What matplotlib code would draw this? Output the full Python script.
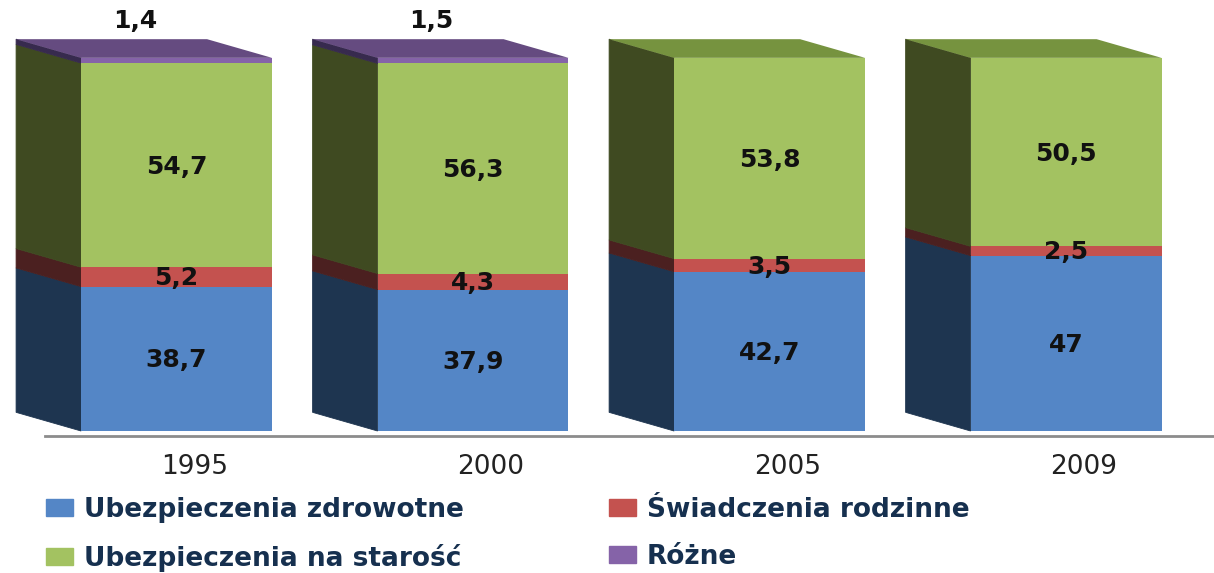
import matplotlib
matplotlib.use("Agg")
import matplotlib.pyplot as plt
from matplotlib.patches import Polygon, Patch

YEARS = ["1995", "2000", "2005", "2009"]
HEALTH = [38.7, 37.9, 42.7, 47.0]
FAMILY = [5.2, 4.3, 3.5, 2.5]
OLD_AGE = [54.7, 56.3, 53.8, 50.5]
OTHER = [1.4, 1.5, 0.0, 0.0]

HEALTH_LABELS = ["38,7", "37,9", "42,7", "47"]
FAMILY_LABELS = ["5,2", "4,3", "3,5", "2,5"]
OLD_AGE_LABELS = ["54,7", "56,3", "53,8", "50,5"]
OTHER_LABELS = ["1,4", "1,5", "", ""]

SERIES_NAMES = ["Ubezpieczenia zdrowotne", "Świadczenia rodzinne", "Ubezpieczenia na starość", "Różne"]
FRONT_COLORS = ["#5486C6", "#C4524F", "#A3C261", "#8563A8"]
SIDE_COLORS = ["#1E3550", "#4B2020", "#3F4A21", "#372A4E"]
TOP_COLORS = ["#3F6CA0", "#9A3C3A", "#76933F", "#654B80"]

BAR_WIDTH = 0.644
DEPTH_X = 0.219
DEPTH_Y = 5.0
TEXT_COLOR = "#111111"

fig = plt.figure(figsize=(12.14, 5.73), dpi=100)
ax = fig.add_axes([45 / 1214, (573 - 436) / 573, (1214 - 45) / 1214, 436 / 573])
ax.set_xlim(-0.4435, 3.499)
ax.set_ylim(-1.34, 115.5)

series = [HEALTH, FAMILY, OLD_AGE, OTHER]
labels = [HEALTH_LABELS, FAMILY_LABELS, OLD_AGE_LABELS, OTHER_LABELS]

for i in range(len(YEARS)):
    bottom = 0
    top_idx = max(s for s in range(4) if series[s][i] > 0)
    for s in range(4):
        value = series[s][i]
        if value == 0:
            continue
        left = i - BAR_WIDTH / 2
        ax.bar(i, value, BAR_WIDTH, bottom=bottom, color=FRONT_COLORS[s], linewidth=0, clip_on=False, zorder=3)
        # side face of the fake 3d bar
        side = [(left, bottom), (left - DEPTH_X, bottom + DEPTH_Y),
                (left - DEPTH_X, bottom + value + DEPTH_Y), (left, bottom + value)]
        ax.add_patch(Polygon(side, facecolor=SIDE_COLORS[s], edgecolor=SIDE_COLORS[s], linewidth=0.6,
                             clip_on=False, zorder=2))
        if s == top_idx:
            roof = [(left, bottom + value), (left - DEPTH_X, bottom + value + DEPTH_Y),
                    (left - DEPTH_X + BAR_WIDTH, bottom + value + DEPTH_Y), (left + BAR_WIDTH, bottom + value)]
            ax.add_patch(Polygon(roof, facecolor=TOP_COLORS[s], linewidth=0, clip_on=False, zorder=2))
        if s == 3:
            ax.text(i - 0.14, bottom + value + 10, labels[s][i], ha="center", va="center",
                    fontsize=18, fontweight="bold", color=TEXT_COLOR, zorder=4)
        else:
            ax.text(i, bottom + value / 2 - 0.4, labels[s][i], ha="center", va="center",
                    fontsize=18, fontweight="bold", color=TEXT_COLOR, zorder=4)
        bottom += value

for name in ["top", "left", "right"]:
    ax.spines[name].set_visible(False)
ax.spines["bottom"].set_color("#8C8C8C")
ax.spines["bottom"].set_linewidth(2)
ax.set_yticks([])
ax.set_xticks([i + 0.06 for i in range(len(YEARS))], YEARS)
ax.tick_params(axis="x", length=0, pad=13, labelsize=19, labelcolor="#222222")
ax.patch.set_alpha(0)

handles = [Patch(color=FRONT_COLORS[s], label=SERIES_NAMES[s]) for s in [0, 2, 1, 3]]
fig.legend(handles=handles, ncol=2, frameon=False, loc="lower left",
           bbox_to_anchor=(46 / 1214, 1 / 573), prop={"weight": "bold", "size": 19},
           borderpad=0, borderaxespad=0,
           handlelength=1.02, handleheight=0.6, handletextpad=0.42, columnspacing=5.5, labelspacing=0.8,
           labelcolor="#16304F")

fig.savefig("out.png", dpi=100)
